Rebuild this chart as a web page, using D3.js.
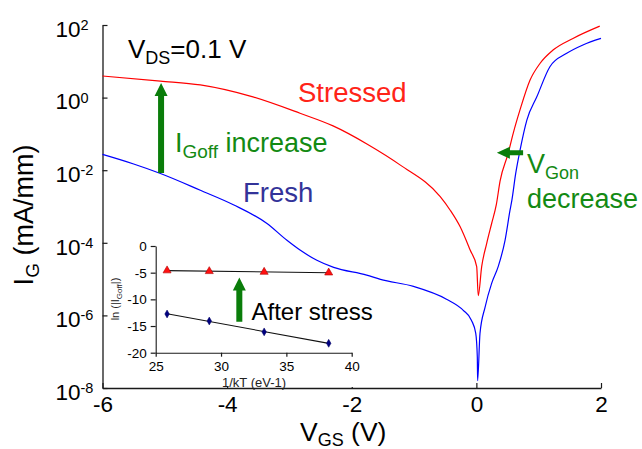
<!DOCTYPE html>
<html>
<head>
<meta charset="utf-8">
<script src="https://cdn.jsdelivr.net/npm/d3@7"></script>
<style>
  html, body { margin: 0; padding: 0; background: #fff; }
  svg { display: block; font-family: "Liberation Sans", Arial, Helvetica, sans-serif; }
</style>
</head>
<body>
<svg id="chart" width="642" height="449"></svg>
<script>
// Gate current (mA/mm) versus gate-source voltage (V), fresh device
const vgsFresh = [-6, -5.5, -5.07, -4.43, -3.9, -3.36, -3.04, -2.83, -2.56, -2.29, -1.76, -1.54, -1.01, -0.48, -0.21, -0.08, -0.01, 0.015, 0.02,
                  0.058, 0.14, 0.245, 0.35, 0.46, 0.54, 0.57, 0.63, 0.70, 0.81, 0.97, 1.18, 1.45, 1.71, 2.0];
const igFresh  = [2.72e-2, 1.48e-2, 8.1e-3, 2.8e-3, 1.12e-3, 3.4e-4, 1.17e-4, 6.3e-5, 3.3e-5, 2.1e-5, 1.29e-5, 9.8e-6, 6.3e-6, 2.8e-6, 1.38e-6, 7.4e-7, 3.2e-7, 7.1e-8, 1.6e-8,
                  3.2e-7, 1.7e-6, 7.6e-6, 2.2e-5, 1.17e-4, 7.9e-4, 1.5e-3, 7.9e-3, 3.5e-2, 0.24, 1.05, 7.1, 16.6, 28.2, 42.7];

// Same sweep after stress
const vgsStressed = [-6, -5.07, -4.43, -3.63, -2.83, -2.3, -1.75, -1.22, -0.58, -0.42, -0.26, -0.1, 0.005, 0.03,
                     0.085, 0.165, 0.245, 0.32, 0.38, 0.51, 0.59, 0.70, 0.86, 1.02, 1.23, 1.55, 1.98];
const igStressed  = [3.93, 2.86, 2.24, 1.10, 0.37, 0.166, 5.2e-2, 1.38e-2, 1.86e-3, 7.9e-4, 2.75e-4, 6.3e-5, 2.2e-5, 3.5e-6,
                     2.2e-5, 9.5e-5, 3.4e-4, 1.12e-3, 5.0e-3, 2.9e-2, 0.102, 0.457, 3.0, 8.7, 20.4, 42.7, 93];

const xTickValues = [-6, -4, -2, 0, 2];
const yTickExponents = [2, 0, -2, -4, -6, -8];

// Arrhenius inset: ln|I_Goff| against 1/kT
const invKT = [25.87, 29.1, 33.3, 38.24];
const lnIgoffStressed = [-4.6, -4.74, -4.87, -5.0];
const lnIgoffFresh = [-12.74, -14.06, -16.1, -18.24];
const insetXTicks = [25, 30, 35, 40];
const insetYTicks = [0, -5, -10, -15, -20];

const COLORS = { fresh: "#0000ff", stressed: "#ff0000", freshText: "#333399", stressedText: "#ff2418",
                 green: "#138a13", arrow: "#0a7d0a", axis: "#1a1a1a" };

const svg = d3.select("#chart");

const x = d3.scaleLinear().domain([-6, 2]).range([102.5, 601]);
const y = d3.scaleLog().domain([1e-8, 1e2]).range([388, 25]);

function styleAxis(g, fontSize) {
  g.attr("font-family", null).attr("font-size", null);
  g.select(".domain").attr("stroke", COLORS.axis).attr("stroke-width", 1.3);
  g.selectAll(".tick line").attr("stroke", COLORS.axis).attr("stroke-width", 1.2);
  g.selectAll(".tick text").attr("fill", "#000").attr("font-size", fontSize);
}

// Main axes (ticks point inward)
const gx = svg.append("g").attr("transform", "translate(0,388)")
  .call(d3.axisBottom(x).tickValues(xTickValues).tickSizeInner(-5).tickSizeOuter(0)
    .tickPadding(8.5).tickFormat(d => String(d)));
styleAxis(gx, 22.5);

const gy = svg.append("g").attr("transform", "translate(102.5,0)")
  .call(d3.axisLeft(y).tickValues(yTickExponents.map(e => Math.pow(10, e)))
    .tickSizeInner(-5).tickSizeOuter(0).tickFormat(""));
styleAxis(gy, 22);

// Power-of-ten tick labels
const yLabels = svg.append("g").selectAll("text").data(yTickExponents).join("text")
  .attr("x", 55.5).attr("y", e => y(Math.pow(10, e)) + 11.7)
  .attr("font-size", 22.5).attr("fill", "#000");
yLabels.append("tspan").text("10");
yLabels.append("tspan").attr("font-size", 14.5).attr("dy", -6.7).text(e => String(e));

// Axis titles
const yTitle = svg.append("text").attr("transform", "translate(33,215) rotate(-90)")
  .attr("text-anchor", "middle").attr("font-size", 27).attr("fill", "#000");
yTitle.append("tspan").text("I");
yTitle.append("tspan").attr("font-size", 19).attr("dy", 6).text("G");
yTitle.append("tspan").attr("dy", -6).text(" (mA/mm)");

const xTitle = svg.append("text").attr("x", 300).attr("y", 440.5)
  .attr("font-size", 26.5).attr("fill", "#000");
xTitle.append("tspan").text("V");
xTitle.append("tspan").attr("font-size", 18).attr("dy", 5).text("GS");
xTitle.append("tspan").attr("dy", -5).text(" (V)");

// Inset panel
const ix = d3.scaleLinear().domain([25, 40]).range([155.7, 351.7]);
const iy = d3.scaleLinear().domain([-20, 0]).range([352.7, 246]);

svg.append("rect").attr("x", 108).attr("y", 240).attr("width", 250).attr("height", 147).attr("fill", "#fff");

const igx = svg.append("g").attr("transform", `translate(0,${iy(-20)})`)
  .call(d3.axisBottom(ix).tickValues(insetXTicks).tickSizeInner(4).tickSizeOuter(0).tickPadding(5));
styleAxis(igx, 13.5);
const igy = svg.append("g").attr("transform", `translate(${ix(25)},0)`)
  .call(d3.axisLeft(iy).tickValues(insetYTicks).tickSizeInner(5).tickSizeOuter(0).tickPadding(4)
    .tickFormat(d => String(d)));
styleAxis(igy, 13.5);
igx.select(".domain").attr("stroke-width", 1.1);
igy.select(".domain").attr("stroke-width", 1.1);

svg.append("text").attr("x", 254).attr("y", 386.5).attr("text-anchor", "middle")
  .attr("font-size", 13).attr("fill", "#222").text("1/kT (eV-1)");

const iyTitle = svg.append("text").attr("transform", "translate(119,299) rotate(-90)")
  .attr("text-anchor", "middle").attr("font-size", 11).attr("fill", "#222");
iyTitle.append("tspan").text("ln (|I");
iyTitle.append("tspan").attr("font-size", 8).attr("dy", 2.5).text("Goff");
iyTitle.append("tspan").attr("dy", -2.5).text("|)");

// Least-squares fit through each Arrhenius series
function fitLine(xs, ys) {
  const n = xs.length, mx = d3.mean(xs), my = d3.mean(ys);
  let sxy = 0, sxx = 0;
  for (let i = 0; i < n; i++) { sxy += (xs[i] - mx) * (ys[i] - my); sxx += (xs[i] - mx) ** 2; }
  const b = sxy / sxx, a = my - b * mx;
  const [x0, x1] = d3.extent(xs);
  return [[x0, a + b * x0], [x1, a + b * x1]];
}
const insetLine = d3.line().x(d => ix(d[0])).y(d => iy(d[1]));
[lnIgoffStressed, lnIgoffFresh].forEach(series => {
  svg.append("path").attr("d", insetLine(fitLine(invKT, series)))
    .attr("fill", "none").attr("stroke", "#111").attr("stroke-width", 1.1);
});

svg.append("g").selectAll("path").data(d3.zip(invKT, lnIgoffStressed)).join("path")
  .attr("transform", d => `translate(${ix(d[0])},${iy(d[1])})`)
  .attr("d", d3.symbol(d3.symbolTriangle, 28))
  .attr("fill", "#ff1010").attr("stroke", "#b00000").attr("stroke-width", 0.6);
svg.append("g").selectAll("path").data(d3.zip(invKT, lnIgoffFresh)).join("path")
  .attr("transform", d => `translate(${ix(d[0])},${iy(d[1])})`)
  .attr("d", d3.symbol(d3.symbolDiamond, 18))
  .attr("fill", "#000080").attr("stroke", "#000060").attr("stroke-width", 0.5);

// I-V curves
const ivLine = d3.line().x(d => x(d[0])).y(d => y(d[1])).curve(d3.curveMonotoneX);
svg.append("path").attr("d", ivLine(d3.zip(vgsFresh, igFresh)))
  .attr("fill", "none").attr("stroke", COLORS.fresh).attr("stroke-width", 1.2);
svg.append("path").attr("d", ivLine(d3.zip(vgsStressed, igStressed)))
  .attr("fill", "none").attr("stroke", COLORS.stressed).attr("stroke-width", 1.2);

// Block arrows
function arrowPath(x0, y0, x1, y1, shaft, headW, headL) {
  const dx = x1 - x0, dy = y1 - y0, len = Math.hypot(dx, dy);
  const ux = dx / len, uy = dy / len, px = -uy, py = ux;
  const bx = x1 - ux * headL, by = y1 - uy * headL;
  const pts = [
    [x0 + px * shaft / 2, y0 + py * shaft / 2], [bx + px * shaft / 2, by + py * shaft / 2],
    [bx + px * headW / 2, by + py * headW / 2], [x1, y1],
    [bx - px * headW / 2, by - py * headW / 2], [bx - px * shaft / 2, by - py * shaft / 2],
    [x0 - px * shaft / 2, y0 - py * shaft / 2]
  ];
  return "M" + pts.map(p => p.join(",")).join("L") + "Z";
}
const igoffArrow = { v: -5.06, from: Math.pow(10, -2.08), to: Math.pow(10, 0.40) };
const vgonArrow = { from: 0.75, to: 0.329, ig: Math.pow(10, -1.52) };
const insetArrow = { k: 31.4, from: -14.2, to: -5.9 };

svg.append("path").attr("fill", COLORS.arrow)
  .attr("d", arrowPath(x(igoffArrow.v), y(igoffArrow.from), x(igoffArrow.v), y(igoffArrow.to), 6, 13, 13));
svg.append("path").attr("fill", COLORS.arrow)
  .attr("d", arrowPath(x(vgonArrow.from), y(vgonArrow.ig), x(vgonArrow.to), y(vgonArrow.ig), 5, 12, 13));
svg.append("path").attr("fill", COLORS.arrow)
  .attr("d", arrowPath(ix(insetArrow.k), iy(insetArrow.from), ix(insetArrow.k), iy(insetArrow.to), 6, 13, 13));

// Annotations
const vds = svg.append("text").attr("x", 128).attr("y", 58).attr("font-size", 26).attr("fill", "#000");
vds.append("tspan").text("V");
vds.append("tspan").attr("font-size", 18).attr("dy", 6).text("DS");
vds.append("tspan").attr("dy", -6).text("=0.1 V");

svg.append("text").attr("x", 298).attr("y", 102).attr("font-size", 27.5)
  .attr("fill", COLORS.stressedText).text("Stressed");
svg.append("text").attr("x", 243).attr("y", 202).attr("font-size", 27.5)
  .attr("fill", COLORS.freshText).text("Fresh");

const igoff = svg.append("text").attr("x", 175).attr("y", 152).attr("font-size", 27).attr("fill", COLORS.green);
igoff.append("tspan").text("I");
igoff.append("tspan").attr("font-size", 19).attr("dy", 6).text("Goff");
igoff.append("tspan").attr("dy", -6).text(" increase");

const vgon = svg.append("text").attr("x", 527).attr("y", 173).attr("font-size", 27).attr("fill", COLORS.green);
vgon.append("tspan").text("V");
vgon.append("tspan").attr("font-size", 18).attr("dy", 6).text("Gon");
svg.append("text").attr("x", 527).attr("y", 207.5).attr("font-size", 27)
  .attr("fill", COLORS.green).text("decrease");

svg.append("text").attr("x", 251.5).attr("y", 319.5).attr("font-size", 24)
  .attr("fill", "#000").text("After stress");
</script>
</body>
</html>
